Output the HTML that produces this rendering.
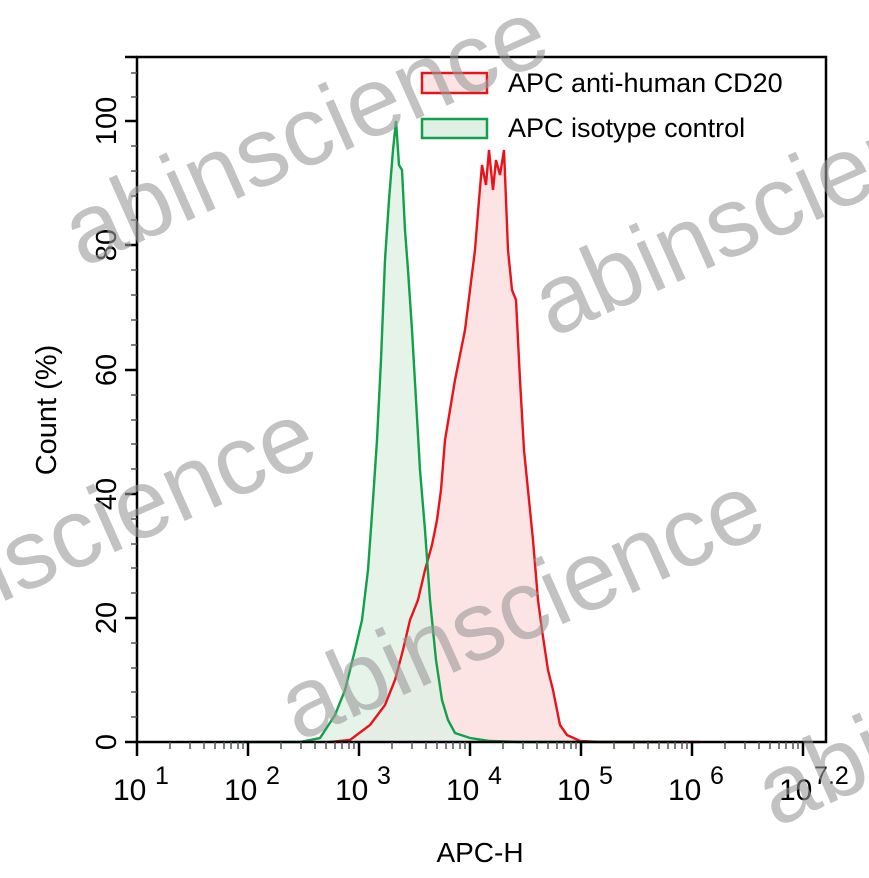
<!DOCTYPE html>
<html><head><meta charset="utf-8"><style>
html,body{margin:0;padding:0;background:#fff;}
svg{display:block;}
</style></head><body>
<svg width="869" height="878" viewBox="0 0 869 878" xmlns="http://www.w3.org/2000/svg" font-family="Liberation Sans, Arial, sans-serif">
<polygon fill="#fde4e4" points="330,742 350,740 370,725 385,705 395,680 403,650 410,620 418,600 425,570 432,545 437,520 441,490 445,440 450,410 455,380 460,355 465,330 470,290 475,250 479,200 482,165 486,185 489,150 493,190 496,160 500,175 504,150 508,250 512,290 516,300 520,380 524,450 528,490 533,540 538,600 542,630 548,670 553,690 560,725 567,735 580,741 600,742"/>
<polygon fill="#dff0e4" fill-opacity="0.8" points="300,742 320,738 335,715 345,690 355,650 362,620 368,570 373,500 377,440 381,360 385,260 389,200 393,150 396,121 399,165 402,170 405,230 408,270 412,330 416,400 420,470 425,530 430,600 436,660 442,700 448,720 455,733 470,738 490,741 520,742"/>
<polyline fill="none" stroke="#e8141c" stroke-width="2.4" points="330,742 350,740 370,725 385,705 395,680 403,650 410,620 418,600 425,570 432,545 437,520 441,490 445,440 450,410 455,380 460,355 465,330 470,290 475,250 479,200 482,165 486,185 489,150 493,190 496,160 500,175 504,150 508,250 512,290 516,300 520,380 524,450 528,490 533,540 538,600 542,630 548,670 553,690 560,725 567,735 580,741 600,742 700,742"/>
<polyline fill="none" stroke="#12a04a" stroke-width="2.4" points="230,742 300,742 320,738 335,715 345,690 355,650 362,620 368,570 373,500 377,440 381,360 385,260 389,200 393,150 396,121 399,165 402,170 405,230 408,270 412,330 416,400 420,470 425,530 430,600 436,660 442,700 448,720 455,733 470,738 490,741 520,742 680,742"/>
<rect x="137" y="57" width="689" height="685" fill="none" stroke="#000" stroke-width="2.5"/>
<g stroke="#000" stroke-width="2.5">
<line x1="125" y1="742" x2="137" y2="742"/><line x1="125" y1="618" x2="137" y2="618"/><line x1="125" y1="494" x2="137" y2="494"/><line x1="125" y1="370" x2="137" y2="370"/><line x1="125" y1="245" x2="137" y2="245"/><line x1="125" y1="121" x2="137" y2="121"/><line x1="125" y1="57" x2="137" y2="57"/>
<line x1="137" y1="742" x2="137" y2="756"/><line x1="248" y1="742" x2="248" y2="756"/><line x1="359" y1="742" x2="359" y2="756"/><line x1="470" y1="742" x2="470" y2="756"/><line x1="581" y1="742" x2="581" y2="756"/><line x1="692" y1="742" x2="692" y2="756"/><line x1="803" y1="742" x2="803" y2="756"/>
</g>
<g stroke="#555" stroke-width="1.5">
<line x1="131" y1="717" x2="137" y2="717"/><line x1="131" y1="692" x2="137" y2="692"/><line x1="131" y1="668" x2="137" y2="668"/><line x1="131" y1="643" x2="137" y2="643"/>
<line x1="131" y1="593" x2="137" y2="593"/><line x1="131" y1="568" x2="137" y2="568"/><line x1="131" y1="544" x2="137" y2="544"/><line x1="131" y1="519" x2="137" y2="519"/>
<line x1="131" y1="469" x2="137" y2="469"/><line x1="131" y1="444" x2="137" y2="444"/><line x1="131" y1="420" x2="137" y2="420"/><line x1="131" y1="395" x2="137" y2="395"/>
<line x1="131" y1="345" x2="137" y2="345"/><line x1="131" y1="320" x2="137" y2="320"/><line x1="131" y1="295" x2="137" y2="295"/><line x1="131" y1="270" x2="137" y2="270"/>
<line x1="131" y1="220" x2="137" y2="220"/><line x1="131" y1="196" x2="137" y2="196"/><line x1="131" y1="171" x2="137" y2="171"/><line x1="131" y1="146" x2="137" y2="146"/>
<line x1="131" y1="97" x2="137" y2="97"/><line x1="131" y1="73" x2="137" y2="73"/>
</g>
<g stroke="#555" stroke-width="1.5">
<line x1="170" y1="742" x2="170" y2="749"/><line x1="190" y1="742" x2="190" y2="749"/><line x1="204" y1="742" x2="204" y2="749"/><line x1="215" y1="742" x2="215" y2="749"/><line x1="224" y1="742" x2="224" y2="749"/><line x1="231" y1="742" x2="231" y2="749"/><line x1="238" y1="742" x2="238" y2="749"/><line x1="243" y1="742" x2="243" y2="749"/>
<line x1="281" y1="742" x2="281" y2="749"/><line x1="301" y1="742" x2="301" y2="749"/><line x1="315" y1="742" x2="315" y2="749"/><line x1="326" y1="742" x2="326" y2="749"/><line x1="335" y1="742" x2="335" y2="749"/><line x1="342" y1="742" x2="342" y2="749"/><line x1="349" y1="742" x2="349" y2="749"/><line x1="354" y1="742" x2="354" y2="749"/>
<line x1="392" y1="742" x2="392" y2="749"/><line x1="412" y1="742" x2="412" y2="749"/><line x1="426" y1="742" x2="426" y2="749"/><line x1="437" y1="742" x2="437" y2="749"/><line x1="446" y1="742" x2="446" y2="749"/><line x1="453" y1="742" x2="453" y2="749"/><line x1="460" y1="742" x2="460" y2="749"/><line x1="465" y1="742" x2="465" y2="749"/>
<line x1="503" y1="742" x2="503" y2="749"/><line x1="523" y1="742" x2="523" y2="749"/><line x1="537" y1="742" x2="537" y2="749"/><line x1="548" y1="742" x2="548" y2="749"/><line x1="557" y1="742" x2="557" y2="749"/><line x1="564" y1="742" x2="564" y2="749"/><line x1="571" y1="742" x2="571" y2="749"/><line x1="576" y1="742" x2="576" y2="749"/>
<line x1="614" y1="742" x2="614" y2="749"/><line x1="634" y1="742" x2="634" y2="749"/><line x1="648" y1="742" x2="648" y2="749"/><line x1="659" y1="742" x2="659" y2="749"/><line x1="668" y1="742" x2="668" y2="749"/><line x1="675" y1="742" x2="675" y2="749"/><line x1="682" y1="742" x2="682" y2="749"/><line x1="687" y1="742" x2="687" y2="749"/>
<line x1="725" y1="742" x2="725" y2="749"/><line x1="745" y1="742" x2="745" y2="749"/><line x1="759" y1="742" x2="759" y2="749"/><line x1="770" y1="742" x2="770" y2="749"/><line x1="779" y1="742" x2="779" y2="749"/><line x1="786" y1="742" x2="786" y2="749"/><line x1="793" y1="742" x2="793" y2="749"/><line x1="798" y1="742" x2="798" y2="749"/>
</g>
<g font-size="29" fill="#000" text-anchor="middle">
<text transform="translate(106,742) rotate(-90)" dy="10">0</text>
<text transform="translate(106,618) rotate(-90)" dy="10">20</text>
<text transform="translate(106,494) rotate(-90)" dy="10">40</text>
<text transform="translate(106,370) rotate(-90)" dy="10">60</text>
<text transform="translate(106,245) rotate(-90)" dy="10">80</text>
<text transform="translate(106,121) rotate(-90)" dy="10">100</text>
<text transform="translate(46,410) rotate(-90)" dy="10">Count  (%)</text>
</g>
<g font-size="30" fill="#000">
<text x="113" y="800">10</text><text x="155" y="784" font-size="25">1</text>
<text x="224" y="800">10</text><text x="266" y="784" font-size="25">2</text>
<text x="335" y="800">10</text><text x="377" y="784" font-size="25">3</text>
<text x="446" y="800">10</text><text x="488" y="784" font-size="25">4</text>
<text x="557" y="800">10</text><text x="599" y="784" font-size="25">5</text>
<text x="668" y="800">10</text><text x="710" y="784" font-size="25">6</text>
<text x="779" y="800">10</text><text x="814" y="784" font-size="25">7.2</text>
<text x="480" y="862" text-anchor="middle" font-size="28">APC-H</text>
</g>
<rect x="422" y="73" width="65" height="20" fill="#fde4e4" stroke="#e8141c" stroke-width="2.5"/>
<rect x="422" y="119" width="65" height="19" fill="#dff0e4" stroke="#12a04a" stroke-width="2.5"/>
<g font-size="27" fill="#000"><text x="508" y="92">APC anti-human CD20</text><text x="508" y="137">APC isotype control</text></g>
<g fill="#9a9a9a" fill-opacity="0.6" font-size="98">
<text transform="translate(82,268) rotate(-24)">abinscience</text>
<text transform="translate(552,338) rotate(-24)">abinscience</text>
<text transform="translate(-150,670) rotate(-24)">abinscience</text>
<text transform="translate(298,742) rotate(-24)">abinscience</text>
<text transform="translate(775,828) rotate(-24)">abinscience</text>
</g>
</svg>
</body></html>
